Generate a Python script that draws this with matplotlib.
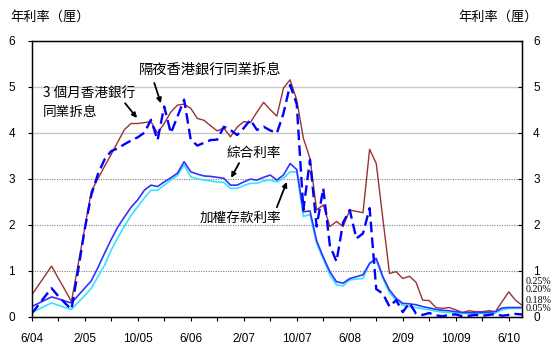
import numpy as np
import matplotlib
matplotlib.use("Agg")
import matplotlib.pyplot as plt
from matplotlib.transforms import blended_transform_factory

plt.rcParams["font.family"] = ["Noto Sans CJK TC", "DejaVu Sans"]

# 2004年6月起每月數據（%）
hibor_3m = [
    0.47, 0.68, 0.89, 1.10, 0.84, 0.59, 0.33, 1.13, 1.93, 2.73,
    3.00, 3.27, 3.53, 3.80, 4.07, 4.20, 4.20, 4.22, 4.24, 3.99,
    4.20, 4.45, 4.60, 4.62, 4.53, 4.31, 4.27, 4.15, 4.04, 4.10,
    3.91, 4.12, 4.24, 4.22, 4.45, 4.66, 4.50, 4.36, 4.97, 5.15,
    4.71, 3.88, 3.44, 2.32, 2.43, 1.96, 2.07, 1.96, 2.32, 2.29,
    2.26, 3.64, 3.33, 2.13, 0.94, 0.98, 0.83, 0.88, 0.75, 0.36,
    0.35, 0.20, 0.18, 0.20, 0.15, 0.09, 0.13, 0.11, 0.11, 0.13,
    0.11, 0.33, 0.54, 0.36, 0.25,
]
hibor_on = [
    0.07, 0.25, 0.44, 0.62, 0.45, 0.30, 0.16, 1.00, 1.90, 2.65,
    3.10, 3.42, 3.60, 3.66, 3.75, 3.83, 3.90, 4.00, 4.28, 3.84,
    4.57, 3.99, 4.35, 4.72, 3.85, 3.72, 3.78, 3.84, 3.85, 4.13,
    4.06, 3.95, 4.10, 4.28, 4.06, 4.13, 4.05, 3.99, 4.42, 5.04,
    4.62, 2.32, 3.41, 1.96, 2.79, 1.55, 1.20, 2.05, 2.32, 1.70,
    1.81, 2.36, 0.60, 0.50, 0.22, 0.36, 0.10, 0.30, 0.07, 0.04,
    0.08, 0.03, 0.01, 0.04, 0.05, 0.01, 0.02, 0.04, 0.02, 0.04,
    0.06, 0.02, 0.04, 0.06, 0.05,
]
composite = [
    0.22, 0.29, 0.36, 0.43, 0.39, 0.34, 0.30, 0.46, 0.62, 0.78,
    1.07, 1.38, 1.68, 1.95, 2.17, 2.38, 2.54, 2.75, 2.86, 2.83,
    2.93, 3.02, 3.12, 3.37, 3.15, 3.10, 3.06, 3.05, 3.03, 3.01,
    2.86, 2.86, 2.93, 2.99, 2.97, 3.03, 3.08, 2.97, 3.08, 3.33,
    3.20, 2.28, 2.30, 1.65, 1.30, 0.98, 0.76, 0.73, 0.83, 0.87,
    0.91, 1.16, 1.27, 0.87, 0.58, 0.40, 0.29, 0.28, 0.26, 0.22,
    0.19, 0.16, 0.14, 0.13, 0.11, 0.09, 0.09, 0.09, 0.09, 0.10,
    0.11, 0.19, 0.20, 0.20, 0.20,
]
weighted_deposit = [
    0.09, 0.16, 0.23, 0.30, 0.25, 0.20, 0.16, 0.31, 0.46, 0.62,
    0.87, 1.12, 1.45, 1.72, 1.97, 2.20, 2.39, 2.58, 2.75, 2.75,
    2.86, 2.97, 3.07, 3.30, 3.04, 3.00, 2.97, 2.95, 2.93, 2.92,
    2.79, 2.79, 2.85, 2.90, 2.90, 2.95, 2.97, 2.93, 3.01, 3.15,
    3.15, 2.18, 2.22, 1.60, 1.25, 0.91, 0.69, 0.67, 0.80, 0.82,
    0.83, 1.16, 1.23, 0.83, 0.52, 0.36, 0.25, 0.22, 0.20, 0.17,
    0.15, 0.12, 0.10, 0.09, 0.08, 0.07, 0.07, 0.07, 0.07, 0.07,
    0.08, 0.15, 0.18, 0.18, 0.18,
]

tick_labels = ["6/04", "2/05", "10/05", "6/06", "2/07",
               "10/07", "6/08", "2/09", "10/09", "6/10"]
end_labels = ["0.25%", "0.20%", "0.18%", "0.05%"]

x = np.arange(len(hibor_3m))

fig = plt.figure(figsize=(5.57, 3.5), dpi=100)
ax = fig.add_axes([0.0569, 0.0951, 0.8803, 0.7886])

# 橫向格線：1-3 點線，4-5 實線
for lvl in range(1, 6):
    if lvl <= 3:
        ax.axhline(lvl, color="#808080", lw=0.8, ls=(0, (1, 1.2)), zorder=1)
    else:
        ax.axhline(lvl, color="#c8c8c8", lw=1.0, zorder=1)

ax.plot(x, hibor_3m, color="#993333", lw=1.0, zorder=3)
ax.plot(x, weighted_deposit, color="#33e6ff", lw=1.2, zorder=4)
ax.plot(x, composite, color="#3333ff", lw=1.2, zorder=5)
ax.plot(x, hibor_on, color="#0000ff", lw=1.7, dashes=(4.5, 2.2), zorder=6)

ax.set_xlim(0, len(x) - 1)
ax.set_ylim(0, 6)
ax.set_yticks(range(7))
ax.set_xticks(np.arange(0, len(x), 8))
ax.set_xticklabels(tick_labels)
ax.set_xticks(np.arange(0, len(x), 4), minor=True)

tick_font = ["Liberation Sans Narrow", "Liberation Sans", "DejaVu Sans"]
for sp in ax.spines.values():
    sp.set_linewidth(1.0)
    sp.set_color("black")
ax.tick_params(axis="x", which="both", direction="out", length=3, width=0.8)
ax.tick_params(axis="x", which="major", pad=9, labelsize=8.5)
ax.tick_params(axis="y", direction="out", length=3, width=0.8, pad=9, labelsize=8.5)
for lab in ax.get_xticklabels() + ax.get_yticklabels():
    lab.set_family(tick_font)

ax2 = ax.twinx()
ax2.set_ylim(0, 6)
ax2.set_yticks(range(7))
ax2.tick_params(axis="y", direction="in", length=3, width=0.8, pad=8, labelsize=8.5)
for lab in ax2.get_yticklabels():
    lab.set_family(tick_font)

# 軸標題
fig.text(0.018, 0.952, "年利率（厘）", fontsize=9.5, ha="left", va="center")
fig.text(0.966, 0.952, "年利率（厘）", fontsize=9.5, ha="right", va="center")

# 系列說明及箭嘴
label_size = 9.8
ax.text(16.2, 5.36, "隔夜香港銀行同業拆息", fontsize=10.3, va="center")
ax.text(1.7, 4.86, "3 個月香港銀行", fontsize=label_size, va="center")
ax.text(1.7, 4.45, "同業拆息", fontsize=label_size, va="center")
ax.text(29.4, 3.56, "綜合利率", fontsize=label_size, va="center")
ax.text(25.4, 2.15, "加權存款利率", fontsize=label_size, va="center")

arrow = dict(arrowstyle="-|>", color="black", lw=1.3, mutation_scale=7,
             shrinkA=0, shrinkB=0)
ax.annotate("", xy=(19.5, 4.64), xytext=(18.5, 5.08), arrowprops=arrow, zorder=7)
ax.annotate("", xy=(15.9, 4.32), xytext=(14.1, 4.64), arrowprops=arrow, zorder=7)
ax.annotate("", xy=(30.1, 3.02), xytext=(31.3, 3.34), arrowprops=arrow, zorder=7)
ax.annotate("", xy=(38.5, 2.93), xytext=(37.0, 2.38), arrowprops=arrow, zorder=7)

# 期末數值
trans = blended_transform_factory(ax.transAxes, ax.transData)
for lab, yv in zip(end_labels, [0.76, 0.59, 0.36, 0.18]):
    ax.text(1.008, yv, lab, transform=trans, fontsize=7.2, va="center",
            ha="left", family=["Liberation Serif", "DejaVu Serif"])

fig.savefig("out.png", dpi=100)
